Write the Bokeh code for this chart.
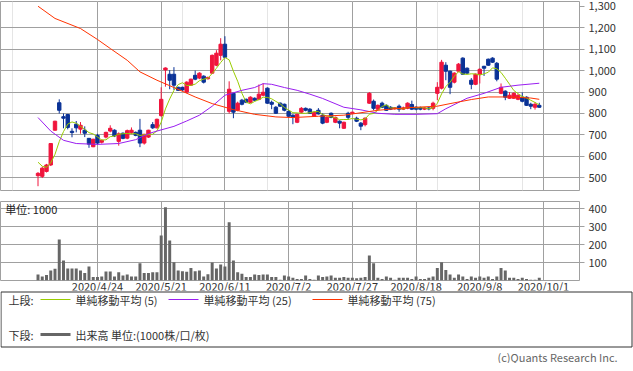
from bokeh.plotting import figure
from bokeh.layouts import column
from bokeh.models import Range1d, FixedTicker, NumeralTickFormatter, Label, Grid
from bokeh.core.properties import value
from bokeh.embed import file_html
from bokeh.resources import INLINE

FONT = "Noto Sans CJK JP"

# trading-day index (0 = 2020/4/24)
days = list(range(-14, 105))
opens = [510, 507, 530, 560, 722, 850, 785, 795, 717, 750, 727, 722, 684, 645,
         698, 666, 690, 718, 722, 670, 708, 685, 710, 712, 722, 662, 690, 748, 733,
         790, 1003, 983, 983, 922, 922, 900, 932, 978, 965, 974, 962, 988, 1025, 1071, 1123,
         810, 894, 815, 862, 866, 852, 871, 866, 885, 918, 852, 829, 848, 843,
         810, 792, 759, 806, 824, 820, 787, 815, 792, 759, 801, 759, 764, 731, 801,
         801, 778, 755, 748, 848, 857, 820, 848, 838, 829, 822, 834, 820, 824, 842,
         829, 828, 820, 826, 824, 894, 918, 1025, 997, 946, 997, 1058, 1011, 955, 936,
         983, 1020, 1053, 1058, 1034, 894, 904, 871, 871, 866, 876, 876, 843, 829, 838]
highs = [527, 552, 565, 662, 766, 866, 800, 798, 731, 765, 760, 740, 686, 682,
         705, 678, 715, 745, 726, 712, 712, 725, 735, 716, 775, 705, 724, 760, 776,
         922, 1015, 1002, 1016, 925, 925, 950, 962, 1000, 992, 978, 972, 1075, 1095, 1151, 1160,
         950, 894, 855, 868, 870, 880, 875, 935, 941, 922, 860, 835, 852, 846,
         815, 796, 800, 830, 828, 825, 810, 825, 800, 785, 805, 785, 768, 762, 808,
         808, 785, 760, 782, 900, 865, 842, 855, 842, 834, 830, 842, 832, 852, 860,
         834, 832, 830, 830, 855, 946, 1050, 1039, 1000, 992, 1035, 1062, 1015, 965, 986,
         1010, 1022, 1056, 1062, 1040, 940, 908, 900, 898, 890, 898, 880, 850, 852, 850]
lows = [461, 499, 525, 555, 720, 800, 731, 726, 689, 712, 706, 690, 640, 643,
        655, 660, 684, 712, 690, 650, 680, 680, 705, 694, 643, 655, 686, 728, 730,
        785, 925, 913, 910, 905, 905, 895, 928, 955, 960, 940, 958, 985, 1020, 1048, 1058,
        800, 778, 810, 838, 848, 848, 858, 862, 880, 845, 820, 798, 830, 810,
        780, 750, 755, 800, 810, 798, 785, 795, 750, 755, 778, 755, 731, 728, 770,
        798, 760, 722, 740, 845, 815, 818, 825, 812, 816, 818, 808, 816, 820, 816,
        815, 815, 816, 815, 815, 862, 912, 955, 890, 940, 992, 980, 985, 913, 932,
        940, 975, 1022, 1036, 950, 890, 862, 868, 868, 862, 852, 835, 820, 818, 826]
closes = [521, 545, 560, 660, 764, 815, 778, 735, 711, 733, 745, 708, 657, 680,
          662, 675, 712, 731, 695, 705, 684, 720, 722, 698, 662, 703, 722, 733, 773,
          866, 1012, 955, 932, 908, 910, 946, 960, 960, 988, 946, 968, 1071, 1081, 1123, 1062,
          913, 806, 848, 843, 852, 876, 862, 890, 899, 848, 843, 801, 834, 815,
          787, 782, 796, 824, 815, 801, 806, 798, 755, 782, 782, 782, 755, 759, 782,
          806, 764, 741, 778, 894, 824, 838, 829, 815, 820, 827, 820, 826, 848, 820,
          820, 820, 826, 821, 848, 922, 1039, 997, 922, 988, 1030, 983, 988, 936, 983,
          1006, 1011, 1025, 1039, 960, 922, 876, 885, 894, 885, 857, 838, 834, 843, 829]
volumes = [33, 22, 30, 56, 65, 228, 111, 67, 67, 67, 56, 41, 78, 19,
           19, 22, 50, 50, 22, 46, 28, 33, 22, 22, 96, 41, 41, 46, 46,
           250, 407, 222, 102, 56, 52, 48, 70, 52, 56, 22, 35, 100, 67, 89, 78,
           324, 111, 46, 37, 19, 19, 33, 30, 33, 33, 19, 19, 4, 28,
           22, 15, 9, 9, 28, 9, 4, 28, 19, 22, 28, 15, 15, 19, 15,
           15, 12, 15, 19, 139, 96, 15, 9, 22, 15, 4, 15, 15, 15, 9,
           22, 9, 9, 15, 22, 70, 102, 59, 33, 15, 33, 22, 9, 22, 15,
           22, 15, 22, 9, 22, 70, 56, 15, 15, 9, 15, 9, 4, 4, 15]

# moving averages
ma5_head = [573, 554, 549, 570]
ma25_days = [-14, -11, -8, -5, 0, 5, 9, 12, 14, 18, 21, 24, 27, 30, 34, 37, 39, 41,
             44, 47, 50, 53, 58, 62, 66, 70, 75, 80, 82, 87, 91, 95, 99, 104]
ma25_vals = [781, 718, 675, 660, 656, 660, 678, 706, 718, 740, 765, 792, 834, 885, 908,
             921, 939, 936, 921, 908, 890, 870, 829, 817, 801, 796, 796, 799, 822, 871,
             894, 922, 932, 941]
ma75_days = [-14, -10, -4, 0, 3, 7, 10, 14, 18, 23, 27, 32, 37, 42, 46, 52, 58, 66,
             73, 80, 83, 88, 92, 97, 102, 104]
ma75_vals = [1300, 1243, 1196, 1145, 1103, 1048, 994, 955, 921, 877, 846, 818, 796, 784,
             781, 787, 792, 815, 827, 834, 846, 865, 877, 877, 872, 866]

tick_days = [0, 15, 30, 45, 60, 75, 90, 105]
tick_labels = ["2020/4/24", "2020/5/21", "2020/6/11", "2020/7/2",
               "2020/7/27", "2020/8/18", "2020/9/8", "2020/10/1"]
price_ticks = [500, 600, 700, 800, 900, 1000, 1100, 1200, 1300]
vol_ticks = [100, 200, 300, 400]

ma5 = list(ma5_head)
for k in range(4, len(closes)):
    ma5.append(sum(closes[k - 4:k + 1]) / 5)

UP = "#F0143C"
DOWN = "#0A3296"
colors = [UP if c >= o else DOWN for o, c in zip(opens, closes)]
tops = [max(o, c) for o, c in zip(opens, closes)]
bottoms = [min(o, c) for o, c in zip(opens, closes)]

GRID = "#A0A0A0"
TXT = "#333333"

xr = Range1d(-22.83, 113.47)

p = figure(frame_width=579, frame_height=189, x_range=xr, y_range=Range1d(441, 1322),
           output_backend="svg", toolbar_location=None, y_axis_location="right",
           x_axis_location=None, min_border_left=0, min_border_right=54,
           min_border_top=1, min_border_bottom=1)
p.outline_line_color = GRID
p.ygrid.ticker = FixedTicker(ticks=price_ticks[:-1])
p.ygrid.grid_line_color = GRID
p.add_layout(Grid(dimension=0, ticker=FixedTicker(ticks=tick_days), grid_line_color=GRID))
ya = p.yaxis[0]
ya.ticker = FixedTicker(ticks=price_ticks)
ya.formatter = NumeralTickFormatter(format="0,0")
ya.axis_line_color = None
ya.major_tick_out = 5
ya.major_tick_in = 0
ya.major_tick_line_color = GRID
ya.minor_tick_line_color = None
ya.major_label_standoff = 4
ya.major_label_text_font = FONT
ya.major_label_text_font_size = "11px"
ya.major_label_text_line_height = 1.0
ya.major_label_text_color = TXT

p.segment(x0=days, y0=highs, x1=days, y1=lows, line_color=colors, line_width=1)
p.vbar(x=days, width=0.8, top=tops, bottom=bottoms, fill_color=colors, line_color=colors)
p.line(days, ma5, line_color="#99CC00", line_width=1)
p.line(ma25_days, ma25_vals, line_color="#9A1EF0", line_width=1)
p.line(ma75_days, ma75_vals, line_color="#FF3300", line_width=1)

v = figure(frame_width=579, frame_height=79, x_range=xr, y_range=Range1d(0, 439),
           output_backend="svg", toolbar_location=None, y_axis_location="right",
           min_border_left=0, min_border_right=54, min_border_top=10, min_border_bottom=0)
v.outline_line_color = GRID
v.ygrid.ticker = FixedTicker(ticks=vol_ticks)
v.ygrid.grid_line_color = GRID
v.xgrid.grid_line_color = GRID
vy = v.yaxis[0]
vy.ticker = FixedTicker(ticks=vol_ticks)
vy.axis_line_color = None
vy.major_tick_out = 5
vy.major_tick_in = 0
vy.major_tick_line_color = GRID
vy.minor_tick_line_color = None
vy.major_label_standoff = 4
vy.major_label_text_font = FONT
vy.major_label_text_font_size = "11px"
vy.major_label_text_color = TXT
vx = v.xaxis[0]
vx.ticker = FixedTicker(ticks=tick_days)
vx.major_label_overrides = {d: t for d, t in zip(tick_days, tick_labels)}
vx.axis_line_color = None
vx.major_tick_out = 0
vx.major_tick_in = 0
vx.minor_tick_line_color = None
vx.major_label_standoff = -3
vx.major_label_text_font = FONT
vx.major_label_text_font_size = "11px"
vx.major_label_text_line_height = 1.0
vx.major_label_text_color = TXT
v.xgrid.ticker = FixedTicker(ticks=tick_days)
v.vbar(x=days, width=0.7, top=volumes, bottom=0, fill_color="#666666", line_color=None)
v.add_layout(Label(x=-21.7, y=400, text="単位: 1000", text_font=FONT, text_font_size="11px",
                   text_baseline="middle", text_color="#222222"))

leg = figure(width=633, height=73, x_range=Range1d(0, 633), y_range=Range1d(365, 292),
             output_backend="svg", toolbar_location=None, x_axis_location=None,
             y_axis_location=None, min_border=0, min_border_left=0, min_border_right=0,
             min_border_top=0, min_border_bottom=0, margin=(-6, 0, 0, 0))
leg.outline_line_color = None
leg.xgrid.visible = False
leg.ygrid.visible = False
leg.quad(left=[0.5], right=[631.5], top=[293.5], bottom=[348.5], fill_color=None, line_color="#333333")
for (x0, col, w, lbl, tx, ty) in [
    (40, "#99CC00", 1, "単純移動平均 (5)", 75, 301),
    (168, "#9A1EF0", 1, "単純移動平均 (25)", 203, 301),
    (312, "#FF3300", 1, "単純移動平均 (75)", 347, 301),
    (40, "#666666", 3, "出来高 単位:(1000株/口/枚)", 75, 336),
]:
    leg.line([x0, x0 + 30], [ty, ty], line_color=col, line_width=w)
    leg.add_layout(Label(x=tx, y=ty, text=lbl, text_font=FONT, text_font_size="11px",
                         text_baseline="middle", text_color=TXT))
for lbl, ty in [("上段:", 301), ("下段:", 336)]:
    leg.add_layout(Label(x=8, y=ty, text=lbl, text_font=FONT, text_font_size="11px",
                         text_baseline="middle", text_color=TXT))
leg.add_layout(Label(x=497, y=358, text="(c)Quants Research Inc.", text_font=FONT,
                     text_font_size="11px", text_baseline="middle", text_color="#666666"))

layout = column(column(p, v, spacing=0), leg, spacing=0)
open("out.html", "w").write(file_html(layout, INLINE))
